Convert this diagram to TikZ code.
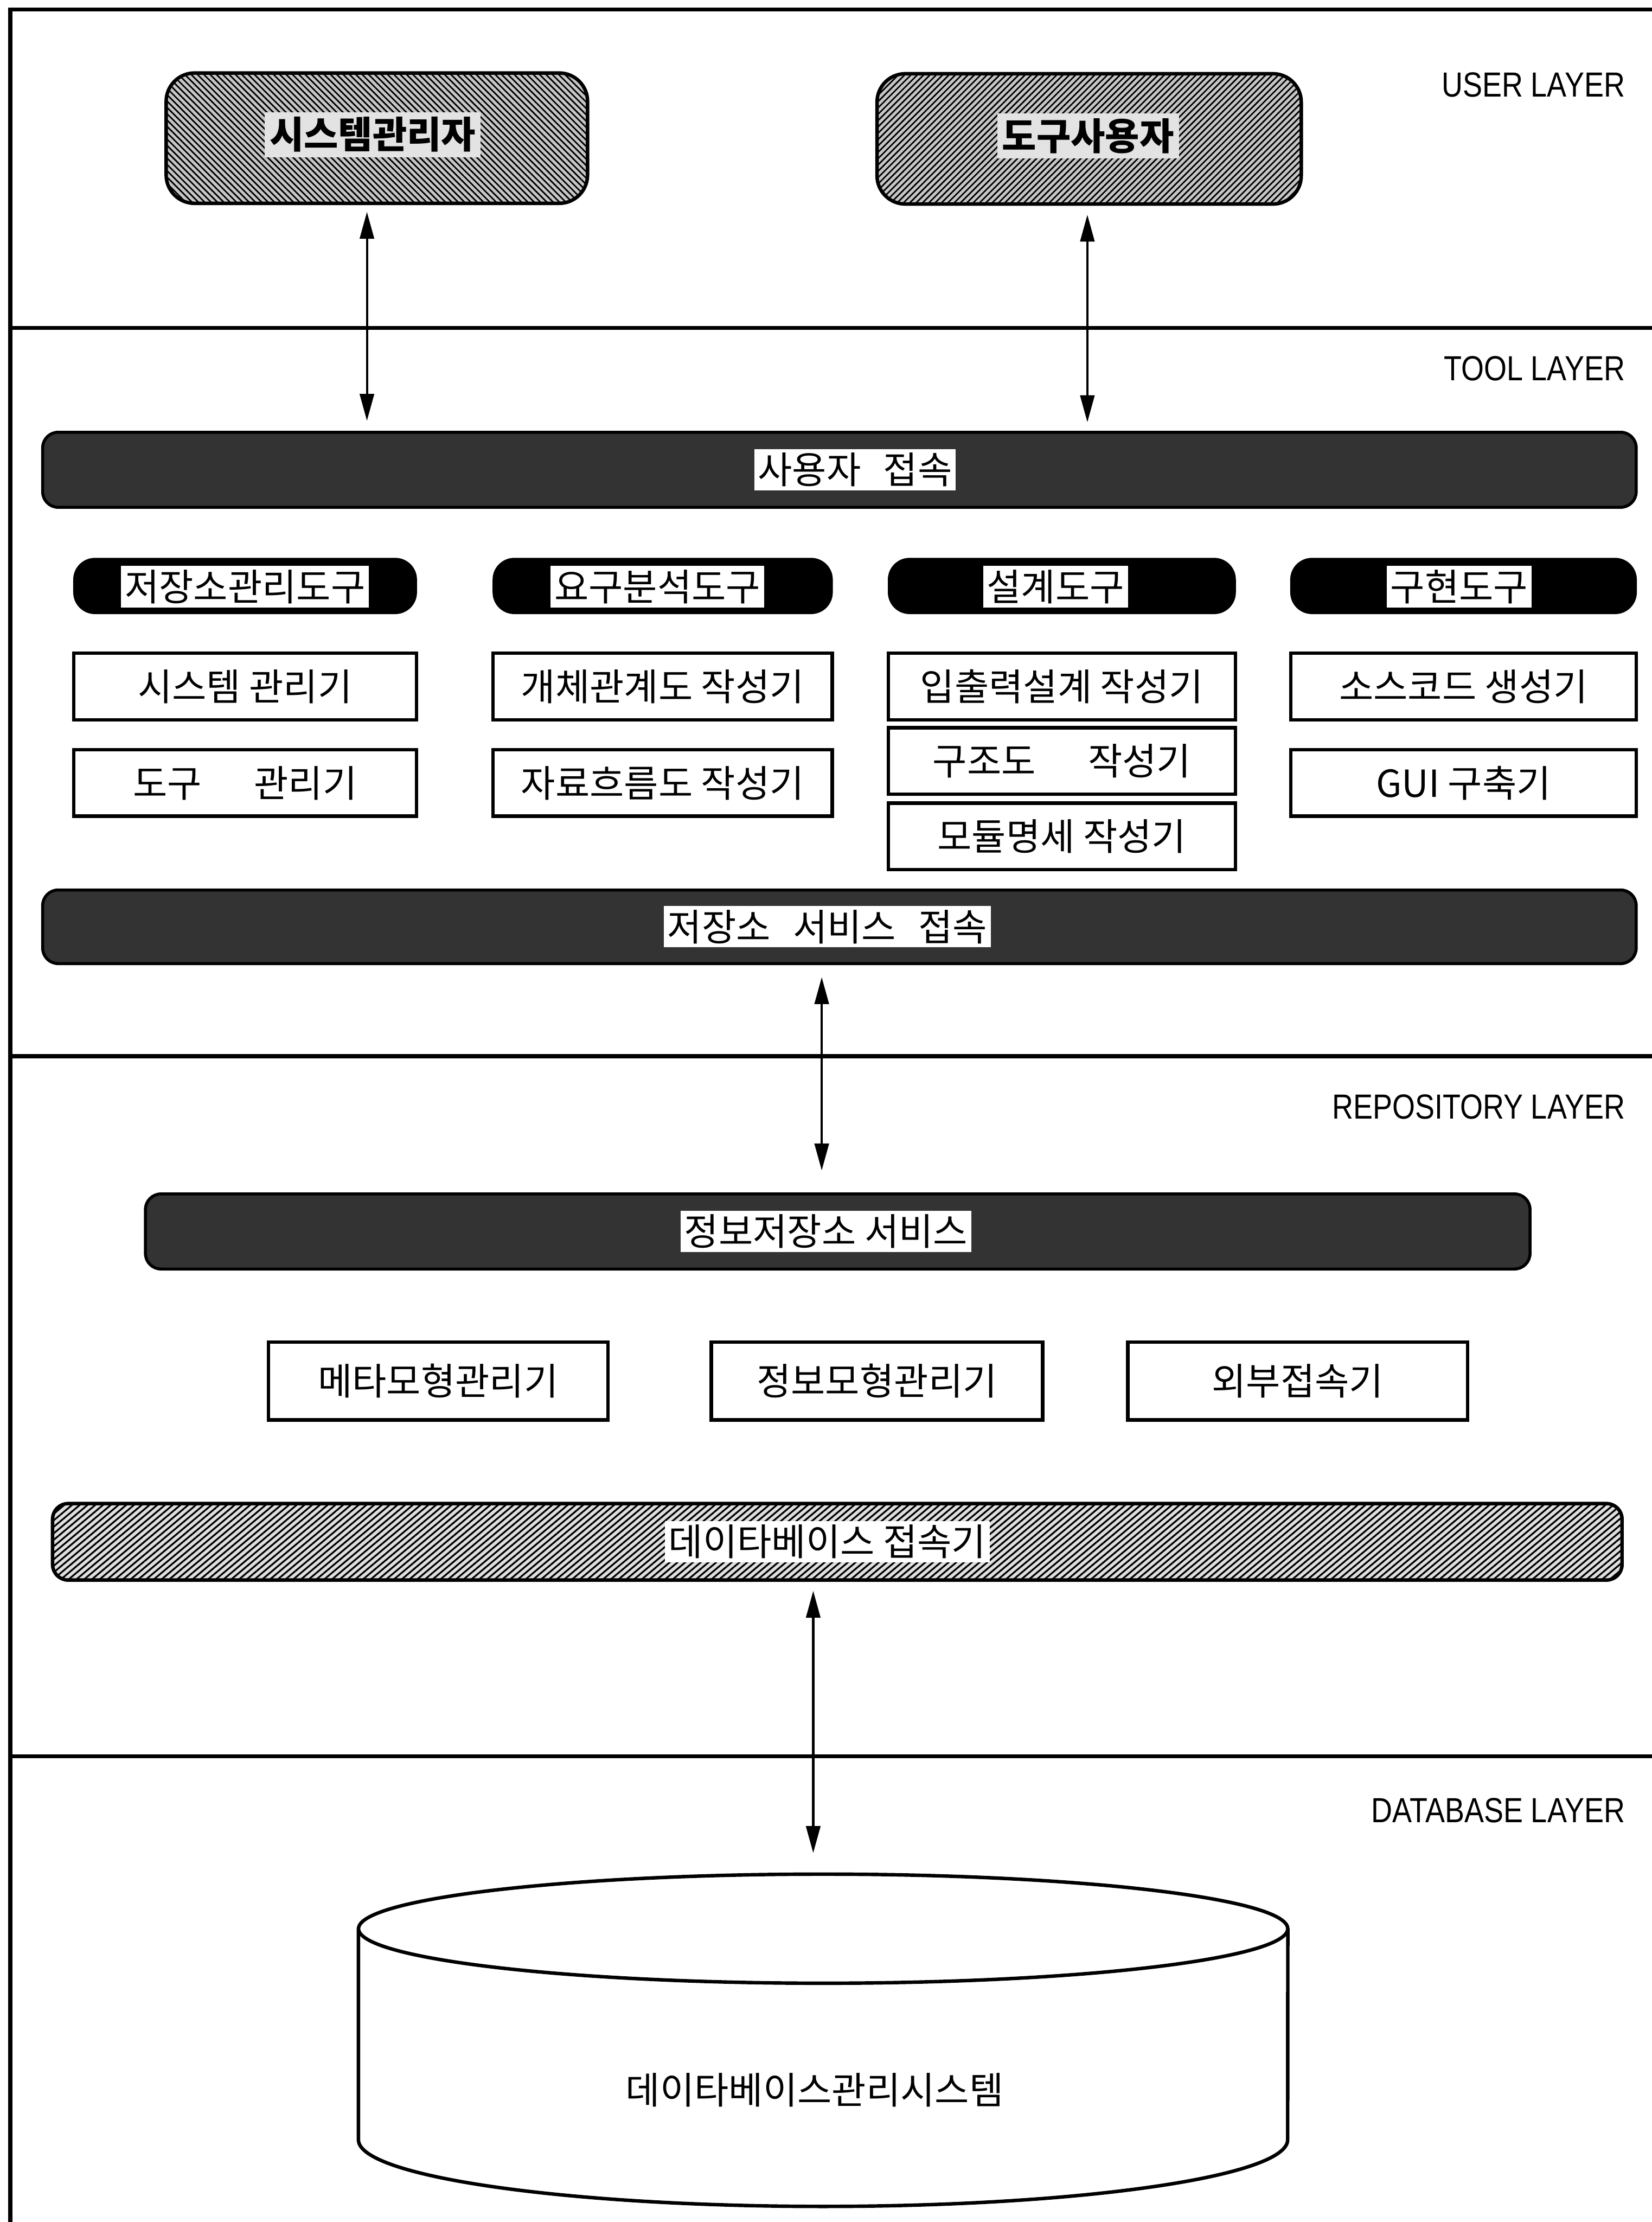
\documentclass[tikz,border=0pt]{standalone}
\usepackage{fontspec}
\setmainfont{Noto Sans CJK KR}
\newfontfamily\lay[FakeStretch=0.84]{Liberation Sans}
\usetikzlibrary{arrows.meta,patterns,patterns.meta}
\begin{document}
\begin{tikzpicture}[x=0.02cm,y=-0.02cm,
  every node/.style={font=\fontsize{15}{18}\selectfont, inner sep=1pt},
  frameline/.style={line width=1.6pt},
  laylabel/.style={anchor=east, font=\lay\fontsize{14}{16}\selectfont},
  ubox/.style={draw, line width=1.4pt, rounded corners=0.4cm, minimum height=1.84cm,
    preaction={fill=gray!45}, pattern color=black},
  ulab/.style={fill=gray!22, inner sep=2pt, font=\fontsize{15}{18}\selectfont\bfseries},
  bar/.style={draw, line width=1.2pt, rounded corners=0.22cm, fill=black!80, minimum height=1.06cm},
  hbar/.style={draw, line width=1.4pt, rounded corners=0.22cm, minimum height=1.08cm,
    preaction={fill=gray!25}, pattern={Lines[angle=40,distance=2pt,line width=0.7pt]}, pattern color=black},
  wlab/.style={fill=white, inner sep=1.5pt},
  hdr/.style={draw, fill=black, rounded corners=0.3cm, minimum height=0.78cm},
  tbox/.style={draw, line width=1.4pt, fill=white, minimum height=0.94cm},
  rbox/.style={draw, line width=1.4pt, fill=white, minimum height=1.1cm},
  dbl/.style={{Triangle[length=0.38cm,width=0.2cm]}-{Triangle[length=0.38cm,width=0.2cm]}, line width=0.9pt}
]
\useasboundingbox (0,0) rectangle (1166,1568);

% frame and layer separators
\draw[frameline] (1166,6.8) -- (7.3,6.8) -- (7.3,1568);
\draw[frameline] (7.3,231.5) -- (1166,231.5);
\draw[frameline] (7.3,745.3) -- (1166,745.3);
\draw[frameline] (7.3,1239.3) -- (1166,1239.3);

% layer labels
\node[laylabel] (l1) at (1149,60) {USER LAYER};
\node[laylabel] (l2) at (1149,260) {TOOL LAYER};
\node[laylabel] (l3) at (1149,781) {REPOSITORY LAYER};
\node[laylabel] (l4) at (1149,1277.5) {DATABASE LAYER};

% user layer
\node[ubox, minimum width=5.95cm, pattern={Lines[angle=135,distance=1.8pt,line width=0.6pt]}] (u1) at (266,97.5) {};
\node[ulab] (u1t) at (263,95) {시스템관리자};
\node[ubox, minimum width=5.99cm, pattern={Lines[angle=45,distance=1.8pt,line width=0.6pt]}] (u2) at (768.75,98) {};
\node[ulab] (u2t) at (768,96) {도구사용자};

% tool layer
\node[bar, minimum width=22.5cm] (sa) at (592.5,331.5) {};
\node[wlab] (sat) at (603.5,331.5) {사용자\hspace{0.6em}접속};

\node[hdr, minimum width=4.84cm] (h1) at (173,413.5) {};
\node[wlab] (h1t) at (173,414) {저장소관리도구};
\node[hdr, minimum width=4.79cm] (h2) at (467.75,413.5) {};
\node[wlab] (h2t) at (464,414) {요구분석도구};
\node[hdr, minimum width=4.9cm] (h3) at (749.5,413.5) {};
\node[wlab] (h3t) at (745,414) {설계도구};
\node[hdr, minimum width=4.88cm] (h4) at (1033,413.5) {};
\node[wlab] (h4t) at (1030,414) {구현도구};

\node[tbox, minimum width=4.84cm] (b11) at (173,484.5) {시스템 관리기};
\node[tbox, minimum width=4.84cm] (b12) at (173,552.5) {도구\hspace{1.4em}관리기};
\node[tbox, minimum width=4.79cm] (b21) at (467.75,484.5) {개체관계도 작성기};
\node[tbox, minimum width=4.79cm] (b22) at (467.75,552.5) {자료흐름도 작성기};
\node[tbox, minimum width=4.9cm] (b31) at (749.5,484.5) {입출력설계 작성기};
\node[tbox, minimum width=4.9cm] (b32) at (749.5,537) {구조도\hspace{1.4em}작성기};
\node[tbox, minimum width=4.9cm] (b33) at (749.5,590.25) {모듈명세 작성기};
\node[tbox, minimum width=4.88cm] (b41) at (1033,484.5) {소스코드 생성기};
\node[tbox, minimum width=4.88cm] (b42) at (1033,552.5) {GUI 구축기};

\node[bar, minimum width=22.5cm, minimum height=1.04cm] (rs) at (592.5,654) {};
\node[wlab] (rst) at (584,654) {저장소\hspace{0.6em}서비스\hspace{0.6em}접속};

% repository layer
\node[bar, minimum width=19.55cm] (is) at (591.3,869) {};
\node[wlab] (ist) at (583,869) {정보저장소 서비스};

\node[rbox, minimum width=4.79cm] (r1) at (309.3,974.5) {메타모형관리기};
\node[rbox, minimum width=4.68cm] (r2) at (619,974.5) {정보모형관리기};
\node[rbox, minimum width=4.8cm] (r3) at (916,974.5) {외부접속기};

\node[hbar, minimum width=22.16cm] (dc) at (591,1088) {};
\node[wlab] (dct) at (584,1088) {데이타베이스 접속기};

% database layer
\draw[line width=1.4pt, fill=white] (253,1361) -- (253,1510) arc[start angle=180, end angle=360, x radius=6.56cm, y radius=0.94cm] -- (909,1361);
\draw[line width=1.4pt] (581,1361) ellipse [x radius=6.56cm, y radius=0.77cm];
\coordinate (dbtop) at (581,1322.6);
\node (dbms) at (575,1475) {데이타베이스관리시스템};

% connectors
\coordinate (ax1) at (259,0);
\coordinate (ax2) at (767.5,0);
\coordinate (ax3) at (580,0);
\coordinate (ax4) at (574,0);
\draw[dbl, shorten <=0.11cm, shorten >=0.14cm] (u1.south -| ax1) -- (sa.north -| ax1);
\draw[dbl, shorten <=0.14cm, shorten >=0.12cm] (u2.south -| ax2) -- (sa.north -| ax2);
\draw[dbl, shorten <=0.17cm, shorten >=0.31cm] (rs.south -| ax3) -- (is.north -| ax3);
\draw[dbl, shorten <=0.14cm, shorten >=0.3cm] (dc.south -| ax4) -- (dbtop -| ax4);
\end{tikzpicture}
\end{document}
